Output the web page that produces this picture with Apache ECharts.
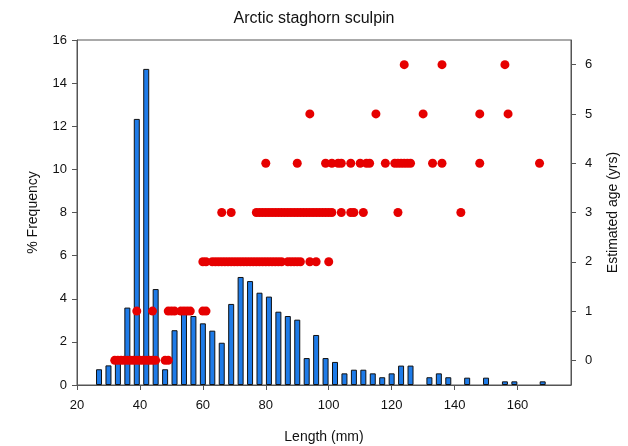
<!DOCTYPE html>
<html>
<head>
<meta charset="utf-8">
<script src="https://cdn.jsdelivr.net/npm/echarts@6/dist/echarts.min.js"></script>
<style>html,body{margin:0;padding:0;background:#fff}#c{width:628px;height:446px}</style>
</head>
<body>
<div id="c"></div>
<script>
// Length bins (mm, bin centres) and % frequency
const binCenters = [27,30,33,36,39,42,45,48,51,54,57,60,63,66,69,72,75,78,81,84,87,90,93,96,99,102,105,108,111,114,117,120,123,126,132,135,138,144,150,156,159,168];
const freqPct    = [0.73,0.91,1.05,3.59,12.34,14.66,4.45,0.73,2.54,3.33,3.2,2.86,2.52,1.96,3.76,5.01,4.82,4.28,4.1,3.4,3.2,3.03,1.25,2.32,1.25,1.07,0.54,0.71,0.71,0.54,0.36,0.54,0.9,0.9,0.36,0.54,0.36,0.34,0.34,0.17,0.17,0.17];

// Estimated age (yrs) vs. length (mm) of individual fish
const age0Lengths = [32,33,34,35,36,37,38,39,40,41,42,43,44,45,48,49];
const age1Lengths = [39,44,49,50,51,53,54,55,56,60,61];
const age2Lengths = [60,61,63,64,65,66,67,68,69,70,71,72,73,74,75,76,77,78,79,80,81,82,83,84,85,87,88,89,90,91,94,96,100];
const age3Lengths = [66,69,77,78,79,80,81,82,83,84,85,86,87,88,89,90,91,92,93,94,95,96,97,98,99,100,101,104,107,108,111,122,142];
const age4Lengths = [80,90,99,101,103,104,107,110,112,113,118,121,122,123,124,125,126,133,136,148,167];
const age5Lengths = [94,115,130,148,157];
const age6Lengths = [124,136,156];
const ageGroups = [age0Lengths, age1Lengths, age2Lengths, age3Lengths, age4Lengths, age5Lengths, age6Lengths];

const xTicks = [20,40,60,80,100,120,140,160];
const rightTicks = [0,1,2,3,4,5,6];

const barData = binCenters.map((x, i) => [x, freqPct[i]]);
const dotData = [];
ageGroups.forEach((arr, age) => arr.forEach(len => dotData.push([len, age])));

const FONT = 'Liberation Sans, Arial, sans-serif';
const axisColor = '#555';

const chart = echarts.init(document.getElementById('c'), null, {renderer: 'canvas'});
chart.setOption({
  animation: false,
  backgroundColor: '#fff',
  title: {
    text: 'Arctic staghorn sculpin',
    left: 'center', top: 6,
    textStyle: {fontFamily: FONT, fontSize: 16, fontWeight: 'normal', color: '#111'}
  },
  grid: {left: 77, right: 57, top: 40, bottom: 61, show: true, borderColor: axisColor, borderWidth: 1,
         containLabel: false, outerBoundsMode: 'none'},
  xAxis: {
    type: 'value', min: 20, max: 177,
    name: 'Length (mm)', nameLocation: 'middle', nameGap: 45,
    nameTextStyle: {fontFamily: FONT, fontSize: 14, color: '#111'},
    axisLine: {show: true, lineStyle: {color: axisColor}},
    axisTick: {show: true, inside: false, length: 5, lineStyle: {color: axisColor}, customValues: xTicks},
    axisLabel: {fontFamily: FONT, fontSize: 13, color: '#111', margin: 14, customValues: xTicks},
    splitLine: {show: false}
  },
  yAxis: [
    {
      type: 'value', min: 0, max: 16, interval: 2,
      name: '% Frequency', nameLocation: 'middle', nameGap: 37, nameRotate: 90,
      nameTextStyle: {fontFamily: FONT, fontSize: 14, color: '#111'},
      axisLine: {show: true, lineStyle: {color: axisColor}},
      axisTick: {show: true, length: 5, lineStyle: {color: axisColor}},
      axisLabel: {fontFamily: FONT, fontSize: 13, color: '#111', margin: 10},
      splitLine: {show: false}
    },
    {
      type: 'value', min: -0.5, max: 6.5, position: 'right',
      name: 'Estimated age (yrs)', nameLocation: 'middle', nameGap: 35, nameRotate: 90,
      nameTextStyle: {fontFamily: FONT, fontSize: 14, color: '#111'},
      axisLine: {show: true, lineStyle: {color: axisColor}},
      axisTick: {show: true, length: 5, lineStyle: {color: axisColor}, customValues: rightTicks},
      axisLabel: {fontFamily: FONT, fontSize: 13, color: '#111', margin: 14, customValues: rightTicks},
      splitLine: {show: false}
    }
  ],
  series: [
    {
      type: 'bar', xAxisIndex: 0, yAxisIndex: 0, data: barData,
      barWidth: 6,
      itemStyle: {color: '#1e7be8', borderColor: '#111', borderWidth: 1},
      z: 2
    },
    {
      type: 'scatter', xAxisIndex: 0, yAxisIndex: 1, data: dotData,
      symbol: 'circle', symbolSize: 9,
      itemStyle: {color: '#e60000', opacity: 1},
      z: 5
    }
  ]
});
</script>
</body>
</html>
